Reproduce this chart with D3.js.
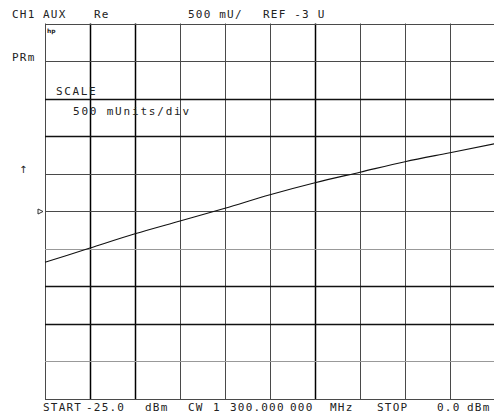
<!DOCTYPE html>
<html>
<head>
<meta charset="utf-8">
<script src="https://cdn.jsdelivr.net/npm/d3@7"></script>
<style>
  html, body { margin: 0; padding: 0; background: #fff; }
  svg { display: block; }
  text { font-family: "DejaVu Sans Mono", monospace; font-size: 11px; fill: #222; letter-spacing: 1.2px; }
</style>
</head>
<body>
<svg id="chart" width="494" height="415"></svg>
<script>
// ---- data ----
const powerDbm = [-25, -22.5, -20, -17.5, -15, -12.5, -10, -7.5, -5, -2.5, 0];
const realUnits = [-3.68, -3.49, -3.30, -3.13, -2.96, -2.78, -2.62, -2.48, -2.34, -2.22, -2.10];
const xTicks = [-25, -22.5, -20, -17.5, -15, -12.5, -10, -7.5, -5, -2.5, 0];
const yTicks = [-5.5, -5, -4.5, -4, -3.5, -3, -2.5, -2, -1.5, -1, -0.5];
const refValue = -3;
const headerTexts = [["CH1", 12], ["AUX", 43], ["Re", 94], ["500 mU/", 188], ["REF -3 U", 263]];
const footerTexts = [["START", 43], ["-25.0", 86], ["dBm", 145], ["CW", 188], ["1", 213], ["300.000", 230], ["000", 290], ["MHz", 330], ["STOP", 377], ["0.0", 437], ["dBm", 467]];

// ---- layout ----
const svg = d3.select("#chart");
const x = d3.scaleLinear().domain([-25, 0]).range([45, 495]);
const y = d3.scaleLinear().domain([-5.5, -0.5]).range([399, 23.5]);

// grid
const boldX = new Set([-22.5, -20, -10]);
const boldY = new Set([-1.5, -2, -4, -4.5]);
const lightY = new Set([-3.5, -5]);

svg.append("g").selectAll("line").data(xTicks).join("line")
  .attr("x1", d => Math.round(x(d)) + 0.5).attr("x2", d => Math.round(x(d)) + 0.5)
  .attr("y1", y(-0.5)).attr("y2", y(-5.5))
  .attr("stroke", d => boldX.has(d) ? "#000" : "#4a4a4a")
  .attr("stroke-width", d => boldX.has(d) ? 1.5 : 1);

svg.append("g").selectAll("line").data(yTicks).join("line")
  .attr("x1", x(-25)).attr("x2", x(0))
  .attr("y1", d => Math.round(y(d)) + 0.5).attr("y2", d => Math.round(y(d)) + 0.5)
  .attr("stroke", d => boldY.has(d) ? "#111" : (lightY.has(d) ? "#999" : "#4a4a4a"))
  .attr("stroke-width", d => boldY.has(d) ? 1.5 : 1);

// trace
const line = d3.line().x((d, i) => x(powerDbm[i])).y(d => y(d)).curve(d3.curveMonotoneX);
svg.append("path").datum(realUnits)
  .attr("d", line).attr("fill", "none").attr("stroke", "#111").attr("stroke-width", 1.1);

// reference marker
const ry = Math.round(y(refValue)) + 0.5;
svg.append("path")
  .attr("d", `M38,${ry - 2.5} L43,${ry} L38,${ry + 2.5} Z`)
  .attr("fill", "#fff").attr("stroke", "#333").attr("stroke-width", 1);

// up arrow
svg.append("text").attr("x", 19).attr("y", 173).style("font-family", "DejaVu Sans").style("font-size", "10px").text("↑");

// hp logo
svg.append("text").attr("x", 47).attr("y", 33).style("font-family", "DejaVu Sans").style("font-weight", "bold")
  .style("font-size", "6px").style("letter-spacing", "0px").text("hp");

// header / footer
svg.append("g").selectAll("text").data(headerTexts).join("text")
  .attr("x", d => d[1]).attr("y", 18).text(d => d[0]);
svg.append("text").attr("x", 12).attr("y", 61).text("PRm");
svg.append("g").selectAll("text").data(footerTexts).join("text")
  .attr("x", d => d[1]).attr("y", 411).text(d => d[0]);

// scale annotation
svg.append("text").attr("x", 56).attr("y", 95).style("letter-spacing", "1.6px").text("SCALE");
svg.append("text").attr("x", 73).attr("y", 115).style("letter-spacing", "1.8px").text("500 mUnits/div");
</script>
</body>
</html>
